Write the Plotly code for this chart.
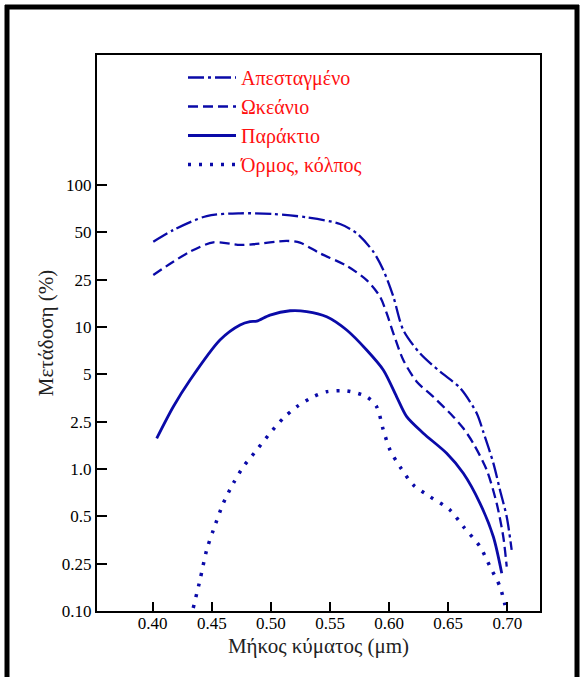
import numpy as np
import plotly.graph_objects as go

# Wavelength (µm) and transmission (%) for each water type
x_distilled = [0.4005, 0.4174, 0.4457, 0.4739, 0.5020, 0.5303, 0.5585, 0.5726, 0.5866, 0.5951,
               0.6036, 0.6120, 0.6261, 0.6431, 0.6600, 0.6741, 0.6797, 0.6882, 0.6938, 0.6995, 0.7037]
y_distilled = [43.6, 51.7, 63.5, 66.1, 65.4, 62.3, 56.5, 49.3, 37.7, 28.8,
               18.0, 9.57, 6.81, 5.20, 4.10, 2.83, 2.05, 1.12, 0.736, 0.497, 0.306]

x_ocean = [0.4005, 0.4174, 0.4316, 0.4513, 0.4739, 0.4851, 0.5134, 0.5246, 0.5415, 0.5641, 0.5810,
           0.5923, 0.5980, 0.6036, 0.6120, 0.6234, 0.6374, 0.6543, 0.6628, 0.6712, 0.6826, 0.6910,
           0.6966, 0.6995]
y_ocean = [26.8, 32.5, 37.7, 43.2, 41.6, 42.0, 44.1, 43.0, 36.8, 30.6, 24.8,
           18.0, 13.0, 9.12, 6.17, 4.49, 3.60, 2.69, 2.20, 1.645, 0.986, 0.605,
           0.371, 0.236]

x_coastal = [0.4034, 0.4174, 0.4316, 0.4569, 0.4739, 0.4823, 0.4880, 0.4992, 0.5162, 0.5303, 0.5472,
             0.5641, 0.5810, 0.5951, 0.6064, 0.6149, 0.6289, 0.6487, 0.6628, 0.6769, 0.6882, 0.6953]
y_coastal = [1.81, 3.11, 4.60, 8.27, 10.4, 11.1, 11.2, 12.6, 13.7, 13.5, 12.2,
             9.57, 7.14, 5.33, 3.60, 2.69, 2.00, 1.356, 0.939, 0.605, 0.371, 0.208]

x_bay = [0.4343, 0.4400, 0.4457, 0.4513, 0.4597, 0.4682, 0.4767, 0.4880, 0.4992, 0.5105, 0.5218,
         0.5359, 0.5472, 0.5641, 0.5810, 0.5895, 0.5951, 0.6008, 0.6092, 0.6205, 0.6346, 0.6515,
         0.6628, 0.6769, 0.6854, 0.6938, 0.6981]
y_bay = [0.106, 0.182, 0.306, 0.409, 0.605, 0.811, 1.046, 1.446, 1.995, 2.63, 3.11,
         3.60, 3.88, 3.92, 3.60, 3.11, 2.13, 1.446, 1.046, 0.791, 0.667, 0.549,
         0.430, 0.321, 0.236, 0.160, 0.112]

names = ["Απεσταγμένο", "Ωκεάνιο", "Παράκτιο", "Όρμος, κόλπος"]

# Transmission scale: labelled levels are drawn at equal spacing
y_ticks = [0.10, 0.25, 0.5, 1.0, 2.5, 5, 10, 25, 50, 100]
y_ticktext = ["0.10", "0.25", "0.5", "1.0", "2.5", "5", "10", "25", "50", "100"]
x_ticks = [0.40, 0.45, 0.50, 0.55, 0.60, 0.65, 0.70]
x_ticktext = ["0.40", "0.45", "0.50", "0.55", "0.60", "0.65", "0.70"]


def to_scale(v):
    return np.interp(np.log10(v), np.log10(y_ticks), np.arange(len(y_ticks)))


W, H = 582, 677
ML, MR, MT, MB = 97, 42, 55, 66
BLUE = "#0a0aa8"
SERIF = "Liberation Serif"

series = [
    (x_distilled, y_distilled, "16px,4px,3px,4px", 2.3),
    (x_ocean, y_ocean, "10px,5px", 2.3),
    (x_coastal, y_coastal, "solid", 2.8),
    (x_bay, y_bay, "3px,8px", 3.5),
]

fig = go.Figure()
for i, ((xs, ys, dash, w), name) in enumerate(zip(series, names)):
    fig.add_trace(go.Scatter(
        x=xs, y=to_scale(np.array(ys)), mode="lines", name=name,
        legendgroup=f"g{i}",
        line=dict(color=BLUE, width=w, dash=dash, shape="spline", smoothing=0.8),
    ))

plot_w = W - ML - MR
plot_h = H - MT - MB
px_per_unit_x = 1182.0
x0 = 0.40 - (152.7 - ML) / px_per_unit_x
x1 = x0 + plot_w / px_per_unit_x
step_y = 47.33
y_top = plot_h / step_y


def px2paper_x(px):
    return (px - ML) / plot_w


def px2paper_y(py):
    return (H - MB - py) / plot_h


# outer page border (left, top, right)
border = dict(color="black", width=5)
fig.add_shape(type="line", xref="paper", yref="paper",
              x0=px2paper_x(7), x1=px2paper_x(7), y0=px2paper_y(5), y1=px2paper_y(H + 5), line=border)
fig.add_shape(type="line", xref="paper", yref="paper",
              x0=px2paper_x(5), x1=px2paper_x(579), y0=px2paper_y(7), y1=px2paper_y(7), line=border)
fig.add_shape(type="line", xref="paper", yref="paper",
              x0=px2paper_x(577), x1=px2paper_x(577), y0=px2paper_y(5), y1=px2paper_y(H + 5), line=border)

fig.update_layout(
    width=W, height=H,
    margin=dict(l=ML, r=MR, t=MT, b=MB),
    paper_bgcolor="white", plot_bgcolor="white",
    font=dict(family=SERIF, color="black"),
    showlegend=True,
    legend=dict(
        x=px2paper_x(183), y=px2paper_y(58), xanchor="left", yanchor="top",
        font=dict(family=SERIF, size=20, color="#ff1010"),
        bgcolor="rgba(0,0,0,0)", borderwidth=0, tracegroupgap=0, itemwidth=48,
    ),
    xaxis=dict(
        range=[x0, x1], tickvals=x_ticks, ticktext=x_ticktext,
        ticks="inside", ticklen=9, tickwidth=1.5, tickcolor="black",
        showline=True, linecolor="black", linewidth=2, mirror=True,
        showgrid=False, zeroline=False, ticklabelstandoff=-4,
        tickfont=dict(family=SERIF, size=17, color="black"),
        title=dict(text="Μήκος κύματος (μm)", font=dict(family=SERIF, size=21, color="#222"), standoff=6),
    ),
    yaxis=dict(
        range=[0, y_top], tickvals=list(range(len(y_ticks))), ticktext=y_ticktext,
        ticks="inside", ticklen=10, tickwidth=1.5, tickcolor="black",
        showline=True, linecolor="black", linewidth=2, mirror=True,
        showgrid=False, zeroline=False,
        tickfont=dict(family=SERIF, size=17, color="black"),
        title=dict(text="Μετάδοση (%)", font=dict(family=SERIF, size=21, color="#222"), standoff=2),
    ),
)

fig.write_html("out.html")
